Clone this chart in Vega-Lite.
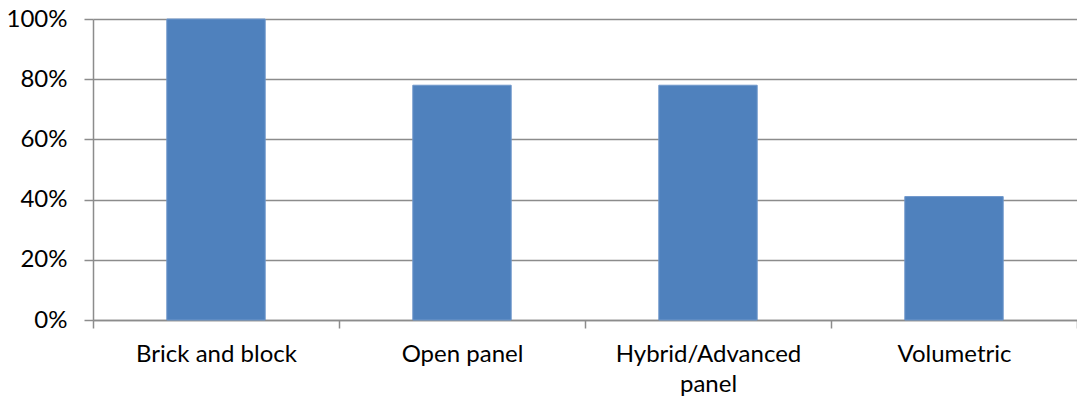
{
  "$schema": "https://vega.github.io/schema/vega-lite/v6.json",
  "width": 984,
  "height": 301,
  "autosize": {"type": "none"},
  "padding": {"left": 93, "top": 19, "right": 0, "bottom": 80},
  "background": "white",
  "data": {
    "values": [
      {"type": "Brick and block", "share": 1.0},
      {"type": "Open panel", "share": 0.78},
      {"type": "Hybrid/Advanced panel", "share": 0.78},
      {"type": "Volumetric", "share": 0.41}
    ]
  },
  "config": {
    "view": {"stroke": null},
    "font": "Lato"
  },
  "mark": {"type": "bar", "color": "#4F81BD", "stroke": "#6F97CB", "strokeWidth": 1, "width": {"band": 0.4}},
  "encoding": {
    "x": {
      "field": "type",
      "type": "nominal",
      "sort": null,
      "scale": {"paddingInner": 0, "paddingOuter": 0},
      "axis": {
        "title": null,
        "labelAngle": 0,
        "labelFont": "Lato",
        "labelFontSize": 24,
        "labelColor": "#000000",
        "labelPadding": 14,
        "labelLimit": 0,
        "labelLineHeight": 30,
        "labelExpr": "datum.label == 'Hybrid/Advanced panel' ? ['Hybrid/Advanced', 'panel'] : datum.label",
        "tickBand": "extent",
        "tickSize": 8,
        "tickColor": "#8C8C8C",
        "tickWidth": 1.5,
        "domainColor": "#8C8C8C",
        "domainWidth": 1.5,
        "grid": false
      }
    },
    "y": {
      "field": "share",
      "type": "quantitative",
      "scale": {"domain": [0, 1], "nice": false},
      "axis": {
        "title": null,
        "format": ".0%",
        "values": [0, 0.2, 0.4, 0.6, 0.8, 1.0],
        "labelFont": "Lato",
        "labelFontSize": 24,
        "labelColor": "#000000",
        "labelPadding": 17,
        "tickSize": 9,
        "tickColor": "#8C8C8C",
        "tickWidth": 1.5,
        "domainColor": "#8C8C8C",
        "domainWidth": 1.5,
        "grid": true,
        "gridColor": "#8C8C8C",
        "gridWidth": 1.5
      }
    }
  }
}
